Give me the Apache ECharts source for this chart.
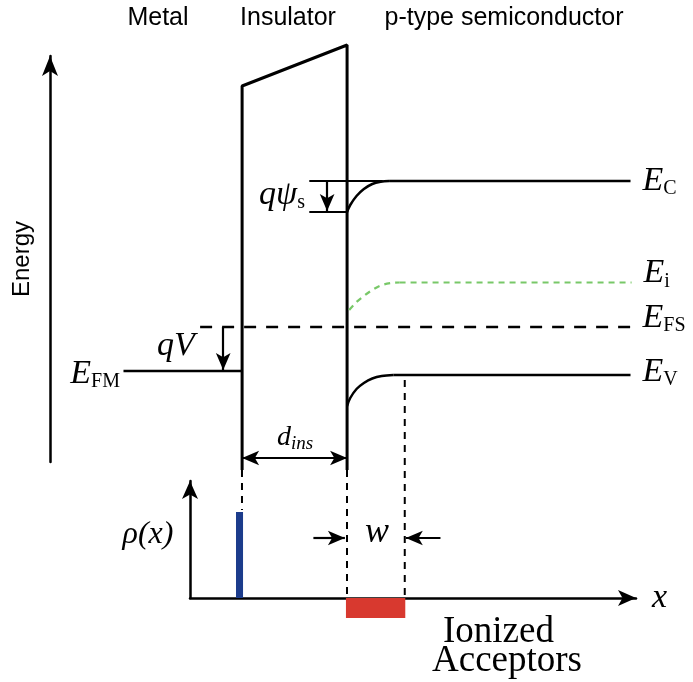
<!DOCTYPE html>
<html>
<head>
<meta charset="utf-8">
<title>MIS band diagram</title>
<script src="https://cdn.jsdelivr.net/npm/echarts@6/dist/echarts.min.js"></script>
<style>
  html, body { margin: 0; padding: 0; background: #fff; }
  #chart { width: 693px; height: 682px; }
</style>
</head>
<body>
<div id="chart"></div>
<script>
// Position x: insulator occupies 0..10. Energy: arbitrary units, semiconductor Fermi level E_FS = 0.
const insulatorOutline = [[0, -14.3], [0, 24.1], [10, 28.2], [10, -14.3]];
const conductionBand = [[10, 11.5], [10.3, 12.2], [10.9, 13.1], [11.6, 13.8], [12.4, 14.3], [13.2, 14.52], [14.0, 14.6]];
const conductionFlat = [[14.0, 14.6], [37, 14.6]];
const intrinsicLevel = [[10.2, 1.7], [10.9, 2.5], [11.6, 3.1], [12.4, 3.7], [13.2, 4.15], [14.2, 4.4], [15.0, 4.45]];
const intrinsicFlat = [[15.0, 4.45], [37.1, 4.45]];
const valenceBand = [[10, -7.9], [10.3, -7.1], [10.9, -6.2], [11.6, -5.6], [12.4, -5.15], [13.3, -4.9], [14.4, -4.8]];
const valenceFlat = [[14.4, -4.8], [37, -4.8]];
const semiconductorFermi = [[-4, 0], [37, 0]];
const metalFermi = [[-11.3, -4.4], [0, -4.4]];

// Surface potential bracket and arrows (energy panel)
const psiTopGuide = [[6.4, 14.6], [13.4, 14.6]];
const psiBottomGuide = [[6.4, 11.5], [10, 11.5]];
const psiArrow = [[8.1, 14.6], [8.1, 11.6]];
const biasArrow = [[-1.8, 0], [-1.8, -4.3]];
const insulatorWidthArrow = [[0, -13.1], [10, -13.1]];

// Charge panel: [xStart, xEnd, rho]
const metalCharge = [[-0.57, 0.1, 8.6]];
const acceptorCharge = [[9.9, 15.55, -2.0]];
const chargeGuides = [
  [[0, 12.8], [0, 8.8]],
  [[10, 12.8], [10, 0]],
  [[15.5, 21.8], [15.5, 0]]
];
const depletionArrows = [
  [[6.8, 6.0], [9.8, 6.0]],
  [[18.9, 6.0], [15.6, 6.0]]
];
const acceptorPointer = [[18.9, -4.4], [16.3, -2.3]];

const SERIF = '"Liberation Serif", "DejaVu Serif", serif';
const SANS = '"Liberation Sans", Arial, sans-serif';
const INK = '#000';

const chart = echarts.init(document.getElementById('chart'), null, { renderer: 'canvas' });

function solid(data, width, xi, yi, extra) {
  return Object.assign({
    type: 'line', data: data, xAxisIndex: xi, yAxisIndex: yi,
    symbol: 'none', clip: false, silent: true,
    lineStyle: { color: INK, width: width }
  }, extra || {});
}

function arrow(pair, xi, yi, ends) {
  return {
    type: 'line', data: [], xAxisIndex: xi, yAxisIndex: yi, silent: true,
    markLine: {
      silent: true, animation: false,
      symbol: ends || ['none', 'arrow'], symbolSize: [11, 17],
      label: { show: false },
      lineStyle: { color: INK, width: 2.2, type: 'solid' },
      data: [[{ coord: pair[0] }, { coord: pair[1] }]]
    }
  };
}

function chargeBlock(color) {
  return function (params, api) {
    const a = api.coord([api.value(0), api.value(2)]);
    const b = api.coord([api.value(1), 0]);
    return {
      type: 'rect',
      shape: {
        x: Math.min(a[0], b[0]), y: Math.min(a[1], b[1]),
        width: Math.abs(b[0] - a[0]), height: Math.abs(b[1] - a[1])
      },
      style: { fill: color }
    };
  };
}

const subRich = {
  e: { fontFamily: SERIF, fontStyle: 'italic', fontSize: 34, lineHeight: 36, fill: INK, color: INK },
  s: { fontFamily: SERIF, fontSize: 20, lineHeight: 20, verticalAlign: 'bottom', fill: INK, color: INK }
};

function bandLabel(sub, dy) {
  return {
    show: true, distance: 12, offset: [0, dy],
    formatter: '{e|E}{s|' + sub + '}',
    rich: subRich
  };
}

function text(x, y, content, style) {
  return {
    type: 'text', x: x, y: y, silent: true,
    style: Object.assign({
      text: content, fill: INK,
      align: 'center', verticalAlign: 'middle',
      textAlign: 'center', textVerticalAlign: 'middle'
    }, style)
  };
}

const curve = { smooth: 0.35 };

const series = [
  // energy panel
  solid(insulatorOutline, 3, 0, 0),
  solid(metalFermi, 2.5, 0, 0),
  solid(semiconductorFermi, 2.5, 0, 0, {
    lineStyle: { color: INK, width: 2.5, type: [12, 10] },
    endLabel: bandLabel('FS', -9)
  }),
  solid(conductionBand, 2.5, 0, 0, curve),
  solid(conductionFlat, 2.5, 0, 0, { endLabel: bandLabel('C', 0) }),
  solid(intrinsicLevel, 2.2, 0, 0, Object.assign({
    lineStyle: { color: '#78c868', width: 2.2, type: [6, 5] }
  }, curve)),
  solid(intrinsicFlat, 2.2, 0, 0, {
    lineStyle: { color: '#78c868', width: 2.2, type: [6, 5] },
    endLabel: bandLabel('i', -9)
  }),
  solid(valenceBand, 2.5, 0, 0, curve),
  solid(valenceFlat, 2.5, 0, 0, { endLabel: bandLabel('V', -3) }),
  solid(psiTopGuide, 2.2, 0, 0),
  solid(psiBottomGuide, 2.2, 0, 0),
  arrow(psiArrow, 0, 0),
  arrow(biasArrow, 0, 0),
  arrow(insulatorWidthArrow, 0, 0, ['arrow', 'arrow']),

  // charge panel
  {
    type: 'custom', xAxisIndex: 1, yAxisIndex: 1, silent: true,
    renderItem: chargeBlock('#1c3c8c'), data: metalCharge
  },
  {
    type: 'custom', xAxisIndex: 1, yAxisIndex: 1, silent: true,
    renderItem: chargeBlock('#d8392f'), data: acceptorCharge
  }
];

chargeGuides.forEach(function (g) {
  series.push(solid(g, 2, 1, 1, { lineStyle: { color: INK, width: 2, type: [7, 6] } }));
});
depletionArrows.forEach(function (p) { series.push(arrow(p, 1, 1)); });
series.push(arrow(acceptorPointer, 1, 1));

const hiddenAxis = {
  show: true, axisLine: { show: false }, axisTick: { show: false },
  axisLabel: { show: false }, splitLine: { show: false }
};

const option = {
  animation: false,
  backgroundColor: '#fff',
  grid: [
    { left: 50, right: 0.55, top: 56, bottom: 220, containLabel: false, outerBoundsMode: 'none' },
    { left: 190, right: 57, top: 481, bottom: 84, containLabel: false, outerBoundsMode: 'none' }
  ],
  xAxis: [
    Object.assign({ type: 'value', gridIndex: 0, min: -18.3, max: 42.9 }, hiddenAxis),
    {
      type: 'value', gridIndex: 1, min: -4.95, max: 37.52,
      axisLine: { show: true, onZero: false, symbol: ['none', 'arrow'], symbolSize: [12, 18],
        lineStyle: { color: INK, width: 2.5 } },
      axisTick: { show: false }, axisLabel: { show: false }, splitLine: { show: false },
      name: 'x', nameLocation: 'end', nameGap: 16,
      nameTextStyle: { fontFamily: SERIF, fontStyle: 'italic', fontSize: 34, color: INK, padding: [0, 0, 6, 0] }
    }
  ],
  yAxis: [
    {
      type: 'value', gridIndex: 0, min: -13.5, max: 27.1,
      axisLine: { show: true, onZero: false, symbol: ['none', 'arrow'], symbolSize: [12, 20],
        lineStyle: { color: INK, width: 2.5 } },
      axisTick: { show: false }, axisLabel: { show: false }, splitLine: { show: false },
      name: 'Energy', nameLocation: 'middle', nameGap: 16,
      nameTextStyle: { fontFamily: SANS, fontSize: 24, color: INK }
    },
    {
      type: 'value', gridIndex: 1, min: 0, max: 11.7,
      axisLine: { show: true, onZero: false, symbol: ['none', 'arrow'], symbolSize: [12, 18],
        lineStyle: { color: INK, width: 2.5 } },
      axisTick: { show: false }, axisLabel: { show: false }, splitLine: { show: false }
    }
  ],
  graphic: [
    text(158, 18, 'Metal', { fontFamily: SANS, fontSize: 25 }),
    text(288, 18, 'Insulator', { fontFamily: SANS, fontSize: 25 }),
    text(504, 18, 'p-type semiconductor', { fontFamily: SANS, fontSize: 25 }),
    text(120, 374, '{e|E}{s|FM}', { align: 'right', textAlign: 'right', rich: subRich }),
    text(176, 346, 'qV', { fontFamily: SERIF, fontStyle: 'italic', fontSize: 34 }),
    text(282, 195, '{e|qψ}{s|s}', { rich: subRich }),
    text(295, 438, '{d|d}{s|ins}', {
      rich: {
        d: { fontFamily: SERIF, fontStyle: 'italic', fontSize: 28, lineHeight: 30 },
        s: { fontFamily: SERIF, fontStyle: 'italic', fontSize: 19, lineHeight: 19, verticalAlign: 'bottom' }
      }
    }),
    text(377, 533, 'w', { fontFamily: SERIF, fontStyle: 'italic', fontSize: 36 }),
    text(148, 535, 'ρ(x)', { fontFamily: SERIF, fontStyle: 'italic', fontSize: 32 }),
    text(443, 632, 'Ionized', { align: 'left', textAlign: 'left', fontFamily: SERIF, fontSize: 37 }),
    text(432, 661, 'Acceptors', { align: 'left', textAlign: 'left', fontFamily: SERIF, fontSize: 37 })
  ],
  series: series
};

chart.setOption(option);
</script>
</body>
</html>
